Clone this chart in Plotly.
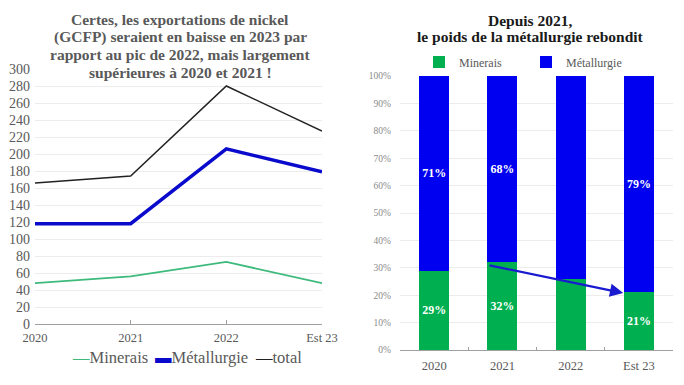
import plotly.graph_objects as go

years = ["2020", "2021", "2022", "Est 23"]
minerais = [48, 56, 73, 48]
metallurgie = [118, 118, 206, 179]
total = [166, 174, 280, 227]
share_min = [29, 32, 26, 21]
share_met = [71, 68, 74, 79]
label_min = ["<b>29%</b>", "<b>32%</b>", "", "<b>21%</b>"]
label_met = ["<b>71%</b>", "<b>68%</b>", "", "<b>79%</b>"]
line_names = ["Minerais", "Métallurgie", "total"]
line_colors = ["#3dba7c", "#0a0acc", "#222222"]

W, H = 684, 385
SERIF = "Liberation Serif"
GRAY = "#595959"

def px(x):
    return x / W

def py(y):
    return 1 - y / H

fig = go.Figure()

for vals, name, col, wd in zip([minerais, metallurgie, total], line_names, line_colors, [1.8, 3.5, 1.5]):
    fig.add_trace(go.Scatter(x=years, y=vals, name=name, mode="lines", showlegend=False,
                             line=dict(color=col, width=wd), xaxis="x", yaxis="y"))

fig.add_trace(go.Bar(x=years, y=share_min, name="Minerais", marker=dict(color="#00b050", line=dict(width=0)),
                     text=label_min, textposition="inside", insidetextanchor="middle", textangle=0,
                     textfont=dict(family=SERIF, size=13, color="white"),
                     xaxis="x2", yaxis="y2", legend="legend2"))
fig.add_trace(go.Bar(x=years, y=share_met, name="Métallurgie", marker=dict(color="#0000f0", line=dict(width=0)),
                     text=label_met, textposition="inside", insidetextanchor="middle", textangle=0,
                     textfont=dict(family=SERIF, size=13, color="white"),
                     xaxis="x2", yaxis="y2", legend="legend2"))

fig.update_layout(
    width=W, height=H, margin=dict(l=0, r=0, t=0, b=0, autoexpand=False),
    paper_bgcolor="white", plot_bgcolor="white",
    barmode="stack", bargap=0.56,
    font=dict(family=SERIF, color=GRAY),
    xaxis=dict(domain=[px(35), px(322)], anchor="y", type="category", range=[0, 3], automargin=False,
               showgrid=False, showline=True, linecolor="#a0a0a0", linewidth=1,
               ticks="inside", ticklen=4, tickcolor="#a0a0a0",
               tickfont=dict(family=SERIF, size=12.5, color=GRAY), ticklabelstandoff=2),
    yaxis=dict(domain=[py(324), py(69)], anchor="x", range=[0, 300], dtick=20, automargin=False,
               showgrid=True, gridcolor="#ececec", zeroline=False, showline=False,
               tickfont=dict(family=SERIF, size=14, color=GRAY), ticklen=0, ticklabelstandoff=4),
    xaxis2=dict(domain=[px(400), px(673)], anchor="y2", type="category", range=[-0.5, 3.5], automargin=False,
                showgrid=False, showline=True, linecolor="#a0a0a0", linewidth=1,
                ticks="inside", ticklen=3, tickcolor="#a0a0a0", tickson="boundaries",
                tickfont=dict(family=SERIF, size=12.5, color=GRAY), ticklabelstandoff=4),
    yaxis2=dict(domain=[py(350), py(76)], anchor="x2", range=[0, 100], dtick=10, ticksuffix="%", automargin=False,
                showgrid=True, gridcolor="#ececec", zeroline=False, showline=False,
                tickfont=dict(family=SERIF, size=9.5, color="#8a8a8a"), ticklen=0, ticklabelstandoff=8),
    legend2=dict(orientation="h", x=px(419), xanchor="left", y=py(62), yanchor="middle",
                 font=dict(family=SERIF, size=12, color=GRAY), bgcolor="rgba(0,0,0,0)",
                 itemwidth=30, entrywidth=62, traceorder="normal"),
    showlegend=True,
)

# legend of the line chart, written as text like the reference ("—Minerais —Métallurgie —total")
leg_x = [70, 153, 253]
dashes = ["—", "▬", "—"]
for name, col, dash, x in zip(line_names, line_colors, dashes, leg_x):
    fig.add_annotation(text=f"<span style='color:{col}'>{dash}</span>{name}", xref="paper", yref="paper",
                       x=px(x), y=py(357), xanchor="left", yanchor="middle", showarrow=False,
                       font=dict(family=SERIF, size=16.5, color=GRAY))

title_left = ["Certes, les exportations de nickel",
              "(GCFP) seraient en baisse en 2023 par",
              "rapport au pic de 2022, mais largement",
              "supérieures à 2020 et 2021 !"]
for i, line in enumerate(title_left):
    fig.add_annotation(text="<b>" + line + "</b>", xref="paper", yref="paper", x=px(180), y=py(19 + i * 17.7),
                       xanchor="center", yanchor="middle", showarrow=False,
                       font=dict(family=SERIF, size=15.5, color=GRAY))

title_right = ["Depuis 2021,", "le poids de la métallurgie rebondit"]
for i, line in enumerate(title_right):
    fig.add_annotation(text="<b>" + line + "</b>", xref="paper", yref="paper", x=px(530), y=py(20 + i * 16),
                       xanchor="center", yanchor="middle", showarrow=False,
                       font=dict(family=SERIF, size=15.5, color="#1a1a1a"))

fig.add_annotation(x=2.77, y=20.8, ax=0.79, ay=31, xref="x2", yref="y2", axref="x2", ayref="y2",
                   showarrow=True, arrowhead=2, arrowsize=1.2, arrowwidth=2.2, arrowcolor="#1a1ad0",
                   text="")

fig.write_html("out.html", config={"displayModeBar": False},
               post_script="document.body.style.margin='0';")
